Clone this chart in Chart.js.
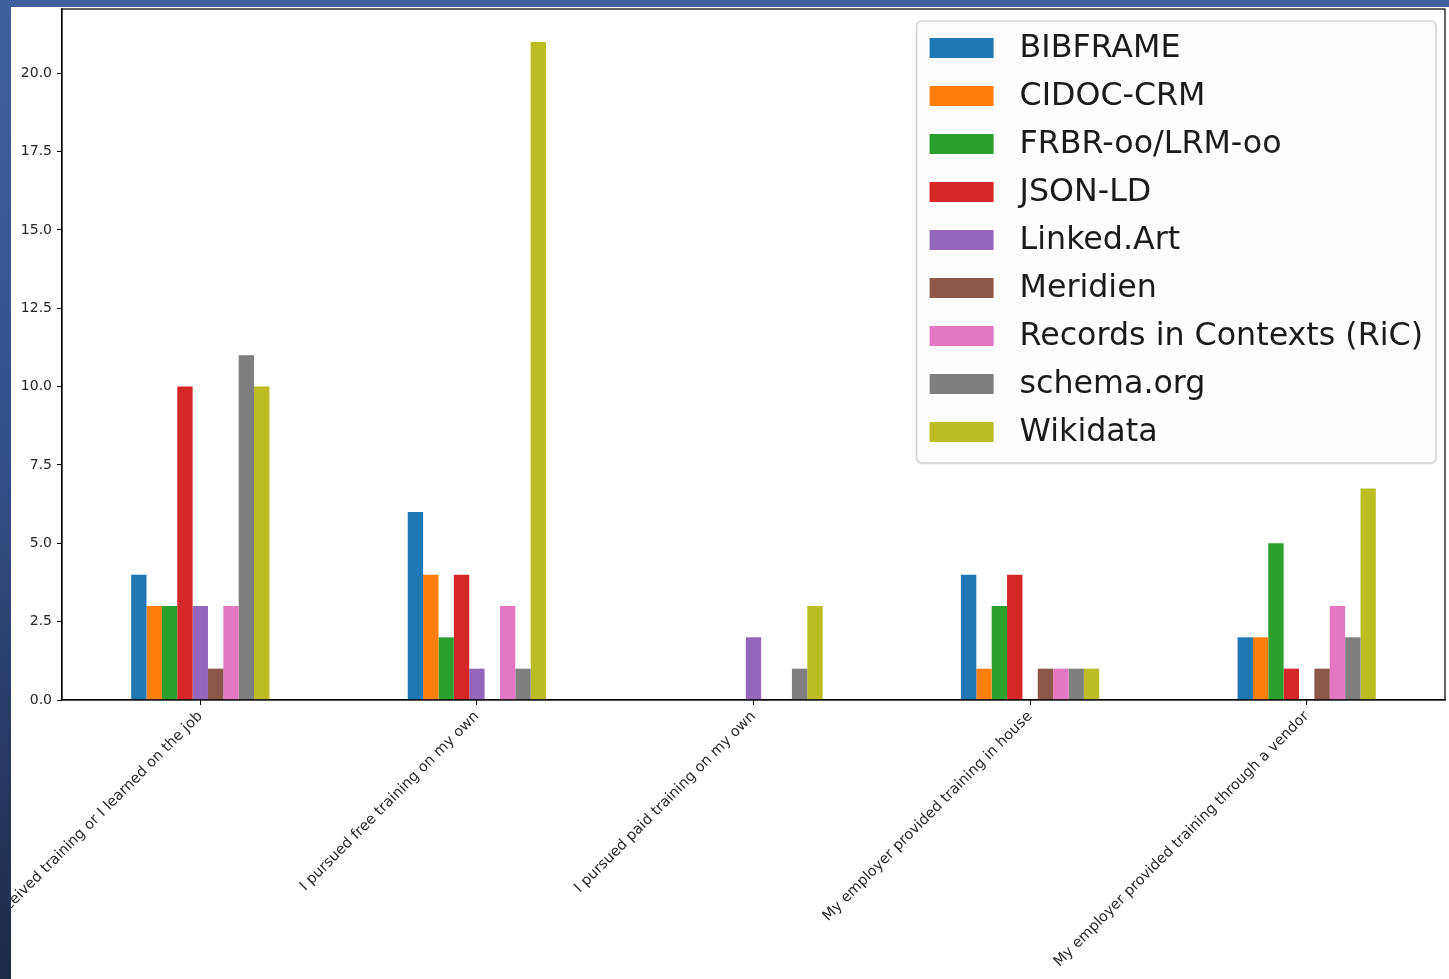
<!DOCTYPE html>
<html>
<head>
<meta charset="utf-8">
<script src="https://cdn.jsdelivr.net/npm/chart.js@4.4.1/dist/chart.umd.min.js"></script>
<style>
    html, body {
        margin: 0;
        padding: 0;
        width: 1449px;
        height: 979px;
        overflow: hidden;
        background: linear-gradient(to bottom, #3f5f9d 0%, #34508b 45%, #1e2a46 100%);
    }
    #panel {
        position: absolute;
        left: 11px;
        top: 7px;
        width: 1438px;
        height: 972px;
        background: #fff;
    }
    canvas { display: block; }
</style>
</head>
<body>
<div id="panel"><canvas id="trainingChart" width="1438" height="972"></canvas></div>
<script>
var categories = [
    'I have not received training or I learned on the job',
    'I pursued free training on my own',
    'I pursued paid training on my own',
    'My employer provided training in house',
    'My employer provided training through a vendor'
];

// one array per ontology / vocabulary, same order as categories
var bibframe  = [4, 6, 0, 4, 2];
var cidocCrm  = [3, 4, 0, 1, 2];
var frbrOo    = [3, 2, 0, 3, 5];
var jsonLd    = [10, 4, 0, 4, 1];
var linkedArt = [3, 1, 2, 0, 0];
var meridien  = [1, 0, 0, 1, 1];
var ric       = [3, 3, 0, 1, 3];
var schemaOrg = [11, 1, 1, 1, 2];
var wikidata  = [10, 21, 3, 1, 6.75];

var seriesNames = ['BIBFRAME', 'CIDOC-CRM', 'FRBR-oo/LRM-oo', 'JSON-LD', 'Linked.Art',
    'Meridien', 'Records in Contexts (RiC)', 'schema.org', 'Wikidata'];
var seriesValues = [bibframe, cidocCrm, frbrOo, jsonLd, linkedArt, meridien, ric, schemaOrg, wikidata];

var yTicks = [0, 2.5, 5, 7.5, 10, 12.5, 15, 17.5, 20];
var yMax = 22.05;

var colors = ['#1f77b4', '#ff7f0e', '#2ca02c', '#d62728', '#9467bd',
    '#8c564b', '#e377c2', '#7f7f7f', '#bcbd22'];

Chart.defaults.font.family = '"DejaVu Sans", sans-serif';
Chart.defaults.font.size = 14;
Chart.defaults.color = '#262626';

// box round the plot, like the matplotlib spines
var frame = {
    id: 'frame',
    afterDatasetsDraw(chart) {
        var a = chart.chartArea, ctx = chart.ctx;
        ctx.save();
        ctx.strokeStyle = '#000';
        ctx.lineWidth = 1.2;
        ctx.strokeRect(a.left, a.top, a.right - a.left, a.bottom - a.top);
        ctx.restore();
    }
};

// legend drawn inside the plot, top right
var insideLegend = {
    id: 'insideLegend',
    afterDraw(chart) {
        var ctx = chart.ctx, area = chart.chartArea;
        var sets = chart.data.datasets;
        ctx.save();
        ctx.font = '31.7px "DejaVu Sans"';
        var maxW = 0;
        sets.forEach(d => { maxW = Math.max(maxW, ctx.measureText(d.label).width); });
        var rowH = 48, swW = 64, swH = 20, padL = 13, gap = 26;
        var w = padL + swW + gap + maxW + 13;
        var h = sets.length * rowH + 10;
        var x = area.right - 9 - w, y = area.top + 12;

        ctx.shadowColor = 'rgba(0,0,0,0.12)';
        ctx.shadowBlur = 3;
        ctx.shadowOffsetY = 1;
        ctx.fillStyle = 'rgba(255,255,255,0.9)';
        ctx.beginPath();
        ctx.roundRect(x, y, w, h, 5);
        ctx.fill();
        ctx.shadowColor = 'transparent';
        ctx.strokeStyle = '#d4d4d4';
        ctx.lineWidth = 1.5;
        ctx.stroke();

        ctx.textBaseline = 'middle';
        sets.forEach((d, i) => {
            var cy = y + 27 + i * rowH;
            ctx.fillStyle = d.backgroundColor;
            ctx.fillRect(x + padL, cy - swH / 2, swW, swH);
            ctx.fillStyle = '#1a1a1a';
            ctx.fillText(d.label, x + padL + swW + gap, cy + 1);
        });
        ctx.restore();
    }
};

var datasets = seriesNames.map((name, i) => ({
    label: name,
    data: seriesValues[i],
    backgroundColor: colors[i],
    borderWidth: 0,
    categoryPercentage: 0.5,
    barPercentage: 1.0
}));

var ctx = document.getElementById('trainingChart');
var trainingChart = new Chart(ctx, {
    type: 'bar',
    data: {labels: categories, datasets: datasets},
    options: {
        responsive: false,
        animation: false,
        layout: {padding: {top: 2, right: 4, left: 0, bottom: 0}},
        plugins: {
            legend: {display: false},
            tooltip: {enabled: false}
        },
        scales: {
            x: {
                offset: true,
                grid: {display: true, drawOnChartArea: false, offset: false, tickLength: 5, color: '#000', tickColor: '#000'},
                border: {display: true, color: '#000', width: 1.2},
                ticks: {minRotation: 45, maxRotation: 45, autoSkip: false, padding: 3, font: {size: 14.5}},
                afterFit(scale) {
                    scale.height = 279;
                    scale.paddingLeft = 0;
                    scale.paddingRight = 0;
                }
            },
            y: {
                min: 0,
                max: yMax,
                grid: {display: true, drawOnChartArea: false, tickLength: 5, color: '#000', tickColor: '#000'},
                border: {display: true, color: '#000', width: 1.2},
                ticks: {padding: 5, callback: v => v.toFixed(1)},
                afterBuildTicks(scale) {
                    scale.ticks = yTicks.map(v => ({value: v}));
                },
                afterFit(scale) {
                    scale.width = 51;
                    scale.paddingTop = 0;
                    scale.paddingBottom = 0;
                }
            }
        }
    },
    plugins: [frame, insideLegend]
});
</script>
</body>
</html>
